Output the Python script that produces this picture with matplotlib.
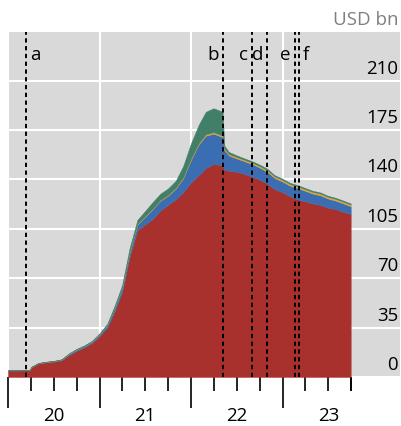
import pandas as pd
import matplotlib
matplotlib.use("Agg")
import matplotlib.pyplot as plt
from matplotlib import transforms

plt.rcParams['font.family'] = ['Open Sans', 'DejaVu Sans']

# Stablecoin market cap by type, USD bn
dates = ['2020-01-01', '2020-02-01', '2020-03-01', '2020-03-28', '2020-04-03',
         '2020-05-01', '2020-06-01', '2020-07-01', '2020-08-01', '2020-09-01',
         '2020-10-01', '2020-11-01', '2020-12-01', '2021-01-01', '2021-02-01',
         '2021-03-01', '2021-04-01', '2021-05-01', '2021-06-01', '2021-07-01',
         '2021-08-01', '2021-09-01', '2021-10-01', '2021-11-01', '2021-12-01',
         '2022-01-01', '2022-02-01', '2022-03-01', '2022-04-01', '2022-05-07',
         '2022-05-14', '2022-06-01', '2022-07-01', '2022-08-01', '2022-09-01',
         '2022-10-01', '2022-11-01', '2022-12-01', '2023-01-01', '2023-02-01',
         '2023-03-01', '2023-04-01', '2023-05-01', '2023-06-01', '2023-07-01',
         '2023-08-01', '2023-09-01', '2023-09-30']
fiat = [4.5, 4.5, 4.6, 4.7, 6.8, 9.5, 10.3, 10.8, 11.8, 15.5,
        18.5, 21.0, 24.0, 29.0, 35.0, 46.0, 60.0, 85.0, 104.0, 108.0,
        112.0, 118.0, 122.0, 126.0, 131.0, 138.0, 143.0, 148.0, 151.0, 150.0,
        147.0, 146.0, 145.5, 144.0, 142.0, 140.0, 137.0, 133.0, 131.0, 128.0,
        126.0, 124.5, 123.0, 122.0, 120.0, 119.0, 117.0, 115.5]
crypto = [0.3, 0.3, 0.3, 0.3, 0.3, 0.3, 0.4, 0.4, 0.5, 0.9,
          1.0, 1.0, 1.1, 1.3, 1.8, 2.5, 3.0, 3.5, 4.0, 5.5,
          7.0, 7.0, 6.5, 7.5, 10.0, 16.0, 22.0, 23.0, 21.5, 20.0,
          14.0, 11.0, 9.5, 9.0, 9.0, 8.5, 8.5, 8.0, 7.5, 7.5,
          8.0, 7.5, 7.0, 6.8, 6.5, 6.0, 6.0, 5.5]
commodity = [0.1, 0.1, 0.1, 0.1, 0.1, 0.1, 0.1, 0.1, 0.1, 0.2,
             0.2, 0.2, 0.2, 0.2, 0.2, 0.3, 0.3, 0.4, 0.4, 0.5,
             0.5, 0.5, 0.6, 0.6, 0.7, 0.8, 0.9, 1.0, 1.0, 1.0,
             1.0, 1.0, 1.0, 1.0, 1.0, 1.1, 1.1, 1.1, 1.1, 1.1,
             1.2, 1.2, 1.2, 1.2, 1.2, 1.2, 1.2, 1.2]
algo = [0.1, 0.1, 0.1, 0.1, 0.1, 0.1, 0.1, 0.2, 0.2, 0.3,
        0.3, 0.3, 0.4, 0.5, 0.8, 1.2, 1.8, 2.5, 3.0, 3.5,
        4.5, 4.5, 4.5, 5.0, 8.0, 11.0, 13.0, 16.0, 17.0, 17.0,
        2.0, 1.5, 1.2, 1.0, 1.0, 1.0, 1.0, 0.9, 0.9, 0.9,
        0.9, 0.8, 0.8, 0.8, 0.8, 0.8, 0.8, 0.8]

events = ['a', 'b', 'c', 'd', 'e', 'f']
event_dates = ['2020-03-12', '2022-05-09', '2022-09-02', '2022-11-01', '2023-02-19', '2023-03-06']
event_side = ['right', 'left', 'left', 'left', 'left', 'right']

years = [2020, 2021, 2022, 2023]
yticks = [0, 35, 70, 105, 140, 175, 210]


def decimal_year(s):
    d = pd.Timestamp(s)
    return d.year + (d.dayofyear - 1) / 365.0


t = [decimal_year(d) for d in dates]
ev_t = [decimal_year(d) for d in event_dates]

fig = plt.figure(figsize=(4.02, 4.27), dpi=100)
ax = fig.add_axes([8 / 402, 1 - 378 / 427, 392 / 402, 345 / 427])
ax.set_facecolor('#D9D9D9')

ax.stackplot(t, fiat, crypto, commodity, algo,
             colors=['#A8312D', '#3B6DB3', '#E3A535', '#417F69'],
             linewidth=0.3, edgecolor='face', zorder=2)

for x in ev_t:
    ax.axvline(x, color='black', lw=1.4, ls=(0, (2.2, 1.8)), zorder=3)

ax.set_xlim(2020, 2024.284)
ax.set_ylim(0, 244.5)

ax.set_xticks(years)
ax.set_xticks([y + q / 4 for y in years for q in range(1, 4)] + [2023.75], minor=True)
ax.tick_params(axis='x', which='major', length=22, width=1.2, color='black', labelbottom=False)
ax.tick_params(axis='x', which='minor', length=10, width=1.2, color='black')
ax.set_yticks(yticks)
ax.tick_params(axis='y', length=0, labelleft=False)
ax.grid(True, color='white', lw=1.5, zorder=0)
ax.set_axisbelow(True)
for s in ax.spines.values():
    s.set_visible(False)

xtr = ax.get_xaxis_transform()
for y in years:
    ax.text(y + 0.5, -0.11, str(y)[2:], transform=xtr, ha='center', va='center',
            fontsize=13.5, color='black')

ytr = transforms.blended_transform_factory(ax.transAxes, ax.transData)
for v in yticks:
    ax.annotate(str(v), xy=(0.995, v), xycoords=ytr, xytext=(0, 8),
                textcoords='offset pixels', ha='right', va='baseline',
                fontsize=13.4, color='black')

for lab, x, side in zip(events, ev_t, event_side):
    dx = 4 if side == 'right' else -4
    ax.annotate(lab, xy=(x, 0.935), xycoords=xtr, xytext=(dx, 0),
                textcoords='offset pixels', ha='left' if side == 'right' else 'right',
                va='center', fontsize=13.5, color='black')

fig.text(399 / 402, 1 - 20 / 427, 'USD bn', ha='right', va='center',
         fontsize=13.5, color='#7F7F7F')

fig.savefig('out.png', dpi=100)
